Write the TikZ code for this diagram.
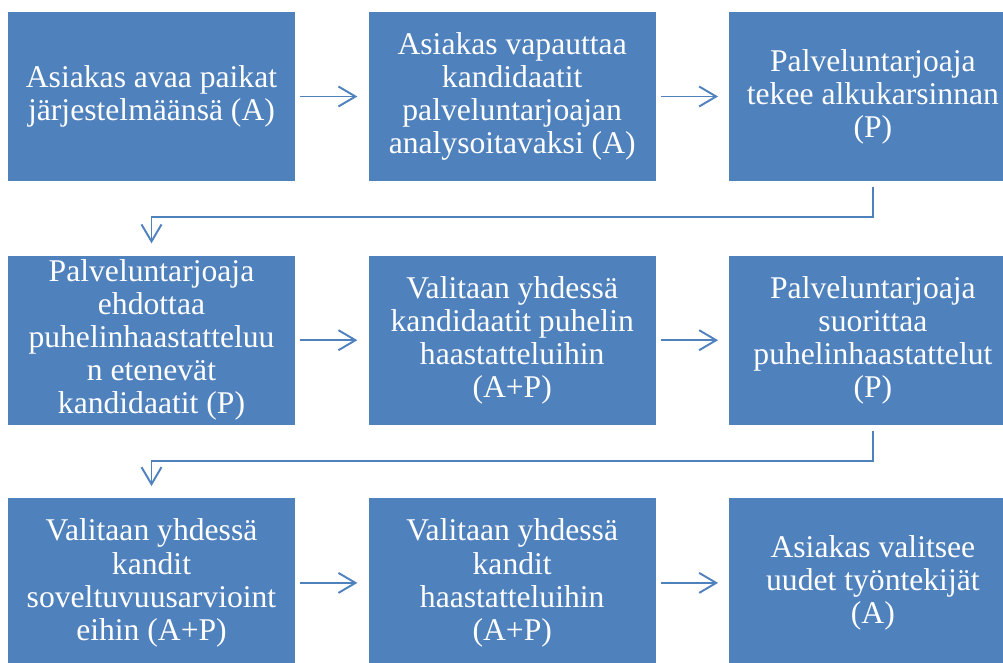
\documentclass[tikz,border=0pt]{standalone}
\usepackage{fontspec}
\setmainfont{Liberation Serif}
\definecolor{stepblue}{HTML}{4F81BD}
\usepackage{tikz}
\usetikzlibrary{arrows.meta,positioning}

\begin{document}
\begin{tikzpicture}[
      phase/.style={fill=stepblue, inner sep=0pt,
                  minimum width=5.74cm, minimum height=3.38cm,
                  text=white, font=\fontsize{18}{18.8}\selectfont, align=center},
      arr/.style={-{Straight Barb[length=0.34cm, width=0.4cm]}, line width=1.1pt, color=stepblue},
      harr/.style={arr, shorten <=0.1cm, shorten >=0.22cm}
  ]
    \useasboundingbox (0,0) rectangle (20.06,13.24);
    % rivi 1
    \node[phase] (avaa) at (3.03,11.31) {Asiakas avaa paikat\\järjestelmäänsä (A)};
    \node[phase, right=1.46cm of avaa] (vapauta) {Asiakas vapauttaa\\kandidaatit\\palveluntarjoajan\\analysoitavaksi (A)};
    \node[phase, right=1.46cm of vapauta] (karsinta) {Palveluntarjoaja\\tekee alkukarsinnan\\(P)};
    % rivi 2
    \node[phase, below=1.48cm of avaa] (ehdota) {Palveluntarjoaja\\ehdottaa\\puhelinhaastatteluu\\n etenevät\\kandidaatit (P)};
    \node[phase, right=1.46cm of ehdota] (puhelin) {Valitaan yhdessä\\kandidaatit puhelin\\haastatteluihin\\(A+P)};
    \node[phase, right=1.46cm of puhelin] (suorita) {Palveluntarjoaja\\suorittaa\\puhelinhaastattelut\\(P)};
    % rivi 3
    \node[phase, below=1.46cm of ehdota] (arvio) {Valitaan yhdessä\\kandit\\soveltuvuusarvioint\\eihin (A+P)};
    \node[phase, right=1.46cm of arvio] (haastattelu) {Valitaan yhdessä\\kandit\\haastatteluihin\\(A+P)};
    \node[phase, right=1.46cm of haastattelu] (valitse) {Asiakas valitsee\\uudet työntekijät\\(A)};
    \draw[harr] (avaa)--(vapauta);
    \draw[harr] (vapauta)--(karsinta);
    \draw[harr] (ehdota)--(puhelin);
    \draw[harr] (puhelin)--(suorita);
    \draw[harr] (arvio)--(haastattelu);
    \draw[harr] (haastattelu)--(valitse);
    \draw[arr, shorten >=0.24cm] ([yshift=-0.12cm]karsinta.south) -- ++(0,-0.6) -| (ehdota.north);
    \draw[arr, shorten >=0.24cm] ([yshift=-0.12cm]suorita.south) -- ++(0,-0.6) -| (arvio.north);
  \end{tikzpicture}
\end{document}
